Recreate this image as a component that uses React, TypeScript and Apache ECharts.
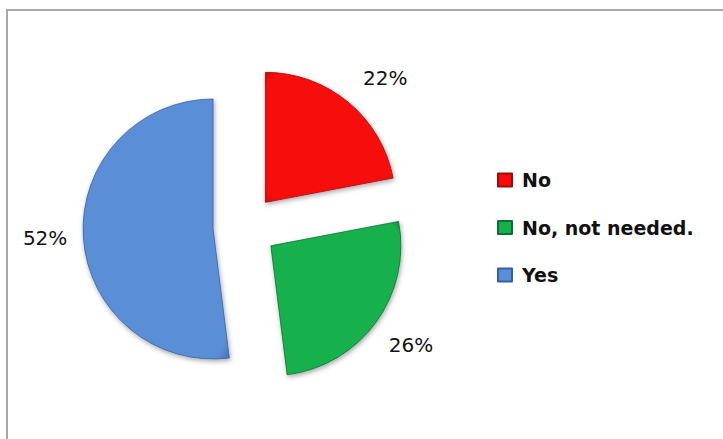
import React, { useEffect, useRef } from "react";
import * as echarts from "echarts";

const categories = ["No", "No, not needed.", "Yes"];
const percentages = [22, 26, 52];
const sliceColors = ["#F80A0A", "#15B14E", "#5A8ED7"];
const edgeColors = ["#A30808", "#0C6E30", "#33639F"];
const labelLineLengths: [number, number][] = [[31, -5], [38, -18], [16, 0]];

export default function App() {
  const ref = useRef<HTMLDivElement>(null);
  useEffect(() => {
    if (!ref.current) return;
    const chart = echarts.init(ref.current, undefined, { renderer: "svg" });
    const data = categories.map((name, i) => ({
      name,
      value: percentages[i],
      selected: true,
      itemStyle: {
        color: new echarts.graphic.RadialGradient(0.5, 0.5, 0.75, [
          { offset: 0, color: sliceColors[i] },
          { offset: 0.85, color: sliceColors[i] },
          { offset: 1, color: edgeColors[i] },
        ]),
        borderColor: edgeColors[i],
        borderWidth: 0.8,
        shadowBlur: 5,
        shadowColor: "rgba(0,0,0,0.35)",
        shadowOffsetX: 1,
        shadowOffsetY: 2,
      },
      labelLine: {
        show: false,
        length: labelLineLengths[i][0],
        length2: labelLineLengths[i][1],
      },
    }));
    chart.setOption({
      animation: false,
      backgroundColor: "#ffffff",
      graphic: [
        {
          type: "rect",
          shape: { x: 7, y: 10, width: 740, height: 460 },
          style: { fill: "none", stroke: "#a8a8a8", lineWidth: 2 },
          silent: true,
          z: -1,
        },
      ],
      legend: {
        orient: "vertical",
        left: 492,
        top: 165,
        itemWidth: 14,
        itemHeight: 13,
        itemGap: 27.5,
        icon: "rect",
        selectedMode: false,
        textStyle: {
          fontFamily: "DejaVu Sans",
          fontWeight: "bold",
          fontSize: 19,
          color: "#111111",
          lineHeight: 20,
          padding: [0, 0, 0, 5],
        },
        data: categories,
      },
      series: [
        {
          type: "pie",
          center: [245, 227],
          radius: 130,
          startAngle: 90,
          clockwise: true,
          selectedMode: "multiple",
          selectedOffset: 32,
          avoidLabelOverlap: false,
          emphasis: { disabled: true },
          label: {
            show: true,
            position: "outside",
            formatter: "{c}%",
            fontFamily: "DejaVu Sans",
            fontSize: 20,
            color: "#111111",
            distanceToLabelLine: 0,
          },
          labelLine: { show: false, length: 31, length2: 0 },
          data,
        },
      ],
    });
    return () => chart.dispose();
  }, []);
  return (
    <div
      ref={ref}
      style={{ position: "fixed", left: 0, top: 0, width: 723, height: 439 }}
    />
  );
}
